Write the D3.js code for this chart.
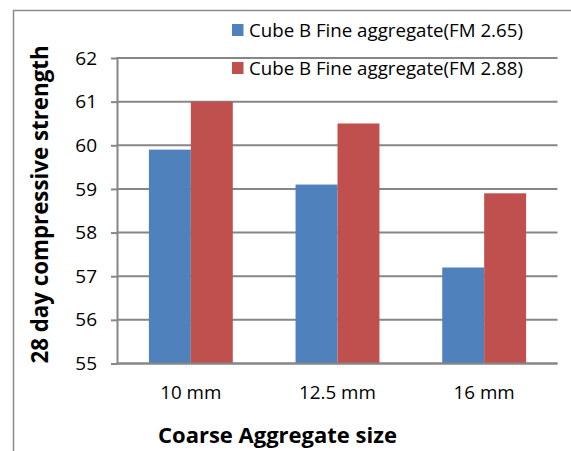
<!DOCTYPE html>
<html>
<head>
<meta charset="utf-8">
<script src="https://cdn.jsdelivr.net/npm/d3@7"></script>
<style>
  body { margin: 0; background: #fff; }
  svg { display: block; font-family: "Open Sans", sans-serif; }
</style>
</head>
<body>
<svg width="571" height="451"></svg>
<script>
// données
const categories = ["10 mm", "12.5 mm", "16 mm"];
const seriesNames = ["Cube B Fine aggregate(FM 2.65)", "Cube B Fine aggregate(FM 2.88)"];
const fm265 = [59.9, 59.1, 57.2];
const fm288 = [61.0, 60.5, 58.9];
const yTicks = [55, 56, 57, 58, 59, 60, 61, 62];

const colors = ["#4F81BD", "#C0504D"];
const gridColor = "#868686";

const svg = d3.select("svg");
const width = +svg.attr("width");
const height = +svg.attr("height");

const plot = {left: 117.5, right: 557.5, top: 58, bottom: 363.5};

// cadre extérieur
svg.append("path")
  .attr("d", `M13.5,${height} V10.5 H${width}`)
  .attr("fill", "none")
  .attr("stroke", "#8c8c8c")
  .attr("stroke-width", 1.5);

// échelles
const x0 = d3.scaleBand()
  .domain(categories)
  .range([plot.left, plot.right])
  .paddingInner(0.428)
  .paddingOuter(0.214);

const x1 = d3.scaleBand()
  .domain([0, 1])
  .range([0, x0.bandwidth()]);

const y = d3.scaleLinear()
  .domain([55, 62])
  .range([plot.bottom, plot.top]);

// grille + graduations
const yAxis = svg.append("g")
  .attr("transform", `translate(${plot.left},0)`)
  .call(d3.axisLeft(y).tickValues(yTicks).tickSize(6.5).tickPadding(14).tickFormat(d3.format("d")));
yAxis.select(".domain").remove();
yAxis.selectAll(".tick line").attr("stroke", gridColor).attr("stroke-width", 2);
yAxis.selectAll(".tick text")
  .attr("fill", "#000")
  .style("font-size", "19px")
  .style("font-family", "'Open Sans', sans-serif");

svg.append("g")
  .selectAll("line")
  .data(yTicks)
  .join("line")
  .attr("x1", plot.left)
  .attr("x2", plot.right)
  .attr("y1", d => y(d))
  .attr("y2", d => y(d))
  .attr("stroke", gridColor)
  .attr("stroke-width", 2);

// barres
const rows = categories.map((c, i) => ({cat: c, values: [fm265[i], fm288[i]]}));
svg.append("g")
  .selectAll("g")
  .data(rows)
  .join("g")
  .attr("transform", d => `translate(${x0(d.cat)},0)`)
  .selectAll("rect")
  .data(d => d.values.map((v, k) => ({k: k, v: v})))
  .join("rect")
  .attr("x", d => x1(d.k))
  .attr("y", d => y(d.v))
  .attr("width", x1.bandwidth())
  .attr("height", d => y(55) - y(d.v))
  .attr("fill", d => colors[d.k]);

// axe vertical + axe horizontal par-dessus les barres
svg.append("line")
  .attr("x1", plot.left).attr("x2", plot.left)
  .attr("y1", plot.top - 1).attr("y2", plot.bottom + 1)
  .attr("stroke", gridColor)
  .attr("stroke-width", 2);
svg.append("line")
  .attr("x1", plot.left).attr("x2", plot.right)
  .attr("y1", plot.bottom).attr("y2", plot.bottom)
  .attr("stroke", gridColor)
  .attr("stroke-width", 2);

// étiquettes des catégories
svg.append("g")
  .selectAll("text")
  .data(categories)
  .join("text")
  .attr("x", d => x0(d) + x0.bandwidth() / 2)
  .attr("y", 398.5)
  .attr("text-anchor", "middle")
  .style("font-size", "18.8px")
  .text(d => d);

// titres des axes
svg.append("text")
  .attr("x", 277.5)
  .attr("y", 442.5)
  .attr("text-anchor", "middle")
  .style("font-size", "22px")
  .style("font-weight", "bold")
  .text("Coarse Aggregate size");

svg.append("text")
  .attr("transform", "translate(48,204.5) rotate(-90)")
  .attr("text-anchor", "middle")
  .style("font-size", "22.3px")
  .style("font-weight", "bold")
  .text("28 day compressive strength");

// légende
const legend = svg.append("g")
  .selectAll("g")
  .data(seriesNames)
  .join("g")
  .attr("transform", (d, i) => `translate(232,${24 + i * 38})`);
legend.append("rect")
  .attr("width", 11.5)
  .attr("height", 12)
  .attr("fill", (d, i) => colors[i]);
legend.append("text")
  .attr("x", 17)
  .attr("y", 13)
  .style("font-size", "18.7px")
  .text(d => d);
</script>
</body>
</html>
